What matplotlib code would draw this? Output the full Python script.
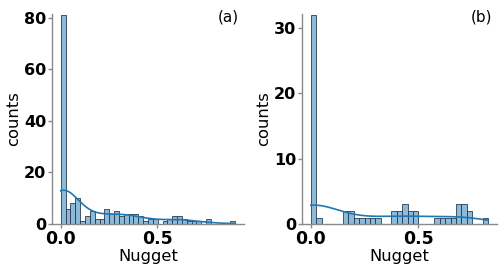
import numpy as np
import matplotlib
matplotlib.use("Agg")
import matplotlib.pyplot as plt
import seaborn as sns

# Histogram counts
bin_width_a = 0.02517
counts_a = [81, 6, 8, 10, 1, 3, 5, 2, 2, 6, 4, 5, 3, 4, 4, 4, 3, 1, 2, 2,
            0, 1, 2, 3, 3, 2, 1, 1, 1, 0, 2, 0, 0, 0, 0, 1]
bin_width_b = 0.02506
counts_b = [32, 1, 0, 0, 0, 0, 2, 2, 1, 1, 1, 1, 1, 0, 0, 2, 2, 3, 2, 2,
            0, 0, 0, 1, 1, 1, 1, 3, 3, 2, 0, 0, 1]
xticks = [0.0, 0.5]
yticks_a = [0, 20, 40, 60, 80]
yticks_b = [0, 10, 20, 30]
panel_labels = ["(a)", "(b)"]


def samples_from_counts(counts, width):
    edges = np.arange(len(counts) + 1) * width
    vals = []
    n = len(counts)
    for i, c in enumerate(counts):
        if i == 0:
            v = 0.0
        elif i == n - 1:
            v = edges[-1]
        else:
            v = (edges[i] + edges[i + 1]) / 2
        vals += [v] * c
    return np.array(vals), edges


fig = plt.figure(figsize=(5, 2.69), dpi=100)
ax_a = fig.add_axes([0.104, 0.167, 0.384, 0.781])
ax_b = fig.add_axes([0.604, 0.167, 0.39, 0.781])

spine_col = "#8a8a8a"
for ax, counts, bw, yt, lab in [
    (ax_a, counts_a, bin_width_a, yticks_a, panel_labels[0]),
    (ax_b, counts_b, bin_width_b, yticks_b, panel_labels[1]),
]:
    data, edges = samples_from_counts(counts, bw)
    sns.histplot(data, bins=edges, kde=True, ax=ax, color="#1f77b4",
                 edgecolor="#2b3d4f", linewidth=0.6,
                 line_kws={"linewidth": 1.2, "color": "#2f86c8"})
    ax.set_ylim(0, max(counts) * 1.005)
    ax.set_xticks(xticks)
    ax.set_xticklabels([f"{t:.1f}" for t in xticks], fontsize=12.5,
                       fontweight="bold")
    ax.set_yticks(yt)
    ax.set_yticklabels([str(t) for t in yt], fontsize=11.5,
                       fontweight="bold")
    ax.set_xlabel("Nugget", fontsize=11.8, labelpad=1)
    ax.set_ylabel("counts", fontsize=11.8, labelpad=2)
    for s in ["top", "right"]:
        ax.spines[s].set_visible(False)
    for s in ["left", "bottom"]:
        ax.spines[s].set_color(spine_col)
        ax.spines[s].set_linewidth(1.0)
    ax.tick_params(axis="both", colors=spine_col, labelcolor="black",
                   length=3, width=1, pad=1)
    ax.text(0.92, 0.985, lab, transform=ax.transAxes, ha="center",
            va="center", fontsize=11)

fig.savefig("out.png", dpi=100)
